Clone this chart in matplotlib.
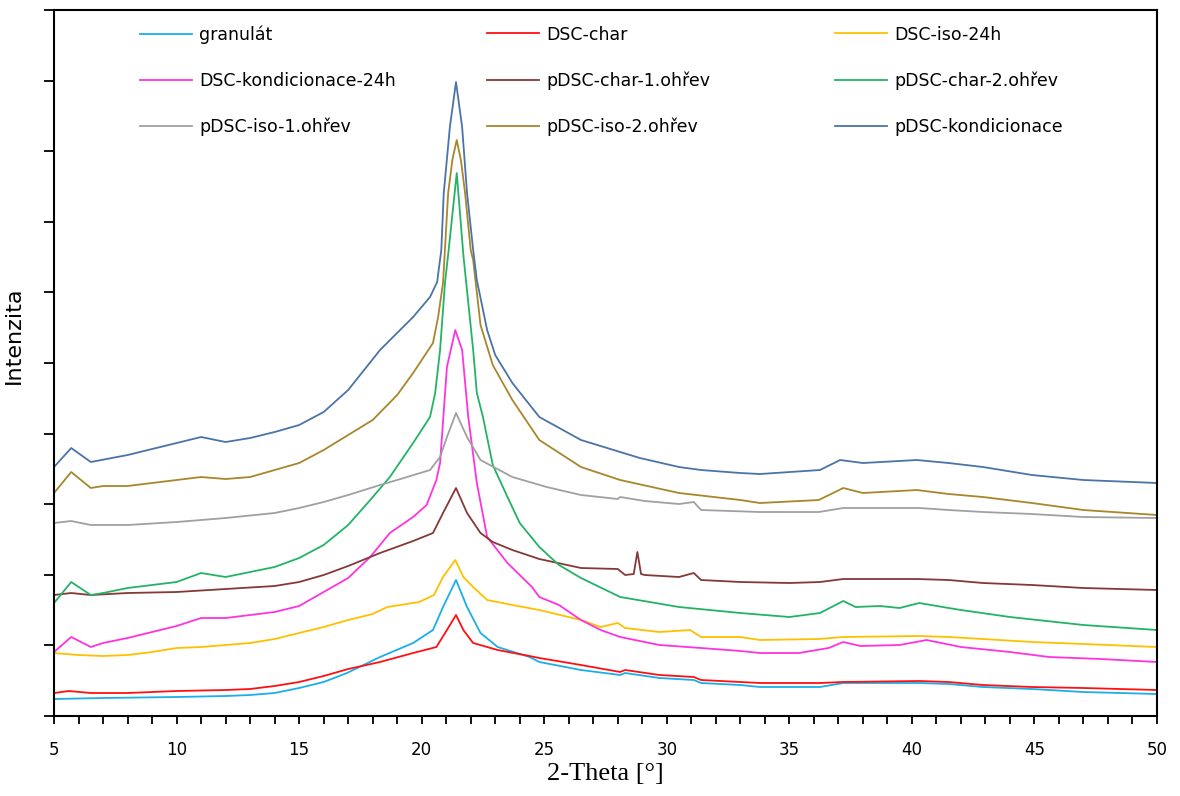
import matplotlib
matplotlib.use("Agg")
import matplotlib.pyplot as plt
from matplotlib.legend import Legend
from matplotlib.ticker import MultipleLocator

# XRD záznamy (2-Theta [°], intenzita)
granulat_x = [5, 7, 10, 12, 13, 14, 15, 16, 16.95, 18.3, 19.65, 20.46, 20.87, 21.4, 21.85, 22.4, 23.1,
              24.4, 24.8, 26.5, 28.1, 28.3, 29.7, 31.1, 31.4, 33, 33.8, 36.25, 37.2, 40.3, 41.5, 42.9,
              44.9, 47, 50]
granulat_y = [170, 180, 190, 200, 210, 230, 280, 340, 430, 590, 730, 860, 1090, 1360, 1090, 830, 690,
              590, 540, 460, 410, 430, 380, 360, 330, 310, 290, 290, 330, 330, 320, 290,
              270, 240, 220]

dsc_char_x = [5, 5.6, 6.5, 8, 10, 12, 13, 14, 15, 16, 17, 18.3, 19.65, 20.6, 21.03, 21.4, 21.7, 22.1,
              23.1, 24.4, 24.8, 26.5, 28.1, 28.3, 29.7, 31.1, 31.4, 33, 33.8, 36.25, 37.2, 40.3, 41.5,
              42.9, 44.9, 47, 50]
dsc_char_y = [230, 250, 230, 230, 250, 260, 270, 300, 340, 400, 470, 540, 630, 690, 860, 1010, 860, 730,
              660, 600, 580, 510, 440, 460, 410, 390, 360, 340, 330, 330, 340, 350, 340,
              310, 290, 280, 260]

dsc_iso_x = [5, 6, 7, 8, 9, 10, 11, 12, 13, 14, 15, 16, 17, 18, 18.6, 19.9, 20.5, 20.87, 21.37, 21.7,
             22.1, 22.67, 23.7, 24.8, 26.5, 27.3, 28.0, 28.3, 29.7, 30.95, 31.4, 33, 33.8, 36.2, 37.2,
             40.3, 41.5, 42.9, 44.9, 47, 50]
dsc_iso_y = [630, 610, 600, 610, 640, 680, 690, 710, 730, 770, 830, 890, 960, 1020, 1090, 1140, 1210, 1390,
             1560, 1390, 1290, 1160, 1110, 1060, 960, 890, 930, 880, 840, 860, 790, 790, 760, 770, 790,
             800, 790, 770, 740, 720, 690]

dsc_kond_x = [5, 5.7, 6.5, 7, 8, 9, 10, 11, 12, 13, 14, 15, 16, 17, 17.9, 18.7, 19.65, 20.2, 20.6, 20.75,
              21.03, 21.37, 21.65, 21.9, 22.25, 22.67, 23.5, 24.5, 24.8, 25.6, 26.5, 27.3, 28.1, 29.7,
              31.4, 33, 33.8, 35.4, 36.6, 37.2, 37.9, 39.5, 40.6, 42, 44, 45.6, 47.7, 50]
dsc_kond_y = [640, 790, 690, 730, 780, 840, 900, 980, 980, 1010, 1040, 1100, 1240, 1380, 1590, 1830, 1990,
              2110, 2360, 2530, 3490, 3860, 3660, 2990, 2330, 1790, 1530, 1290, 1190, 1110, 960, 860,
              790, 710, 680, 650, 630, 630, 680, 740, 700, 710, 760, 690, 640, 590, 570, 540]

pchar1_x = [5, 5.7, 6.5, 8, 10, 12, 14, 15, 16, 17, 18.3, 19.65, 20.46, 20.87, 21.4, 21.85, 22.4, 22.9,
            23.7, 24.8, 26.5, 28.0, 28.3, 28.65, 28.8, 28.95, 29.1, 30.5, 31.1, 31.4, 33, 35, 36.25,
            37.2, 40.2, 41.5, 42.9, 44.9, 47, 50]
pchar1_y = [1210, 1230, 1210, 1230, 1240, 1270, 1300, 1340, 1410, 1500, 1630, 1750, 1830, 2030, 2280, 2030,
            1830, 1740, 1660, 1570, 1480, 1470, 1410, 1420, 1640, 1420, 1410, 1390, 1430, 1360, 1340,
            1330, 1340, 1370, 1370, 1360, 1330, 1310, 1280, 1260]

pchar2_x = [5, 5.7, 6.5, 7, 8, 9, 10, 11, 12, 13, 14, 15, 16, 17, 17.9, 18.7, 19.65, 20.34, 20.55, 20.75,
            20.95, 21.1, 21.43, 21.7, 22.1, 22.25, 22.5, 22.9, 23.5, 24.0, 24.8, 25.6, 26.5, 28.1, 30.5,
            33, 35, 36.25, 37.2, 37.7, 38.7, 39.5, 40.3, 41.5, 42, 44, 47, 50]
pchar2_y = [1130, 1340, 1210, 1230, 1280, 1310, 1340, 1430, 1390, 1440, 1490, 1580, 1710, 1910, 2160, 2390,
            2730, 2990, 3230, 3660, 4330, 4660, 5430, 4610, 3660, 3230, 2990, 2510, 2190, 1930, 1690,
            1510, 1380, 1190, 1090, 1030, 990, 1030, 1150, 1090, 1100, 1080, 1130, 1080, 1060, 990,
            910, 860]

piso1_x = [5, 5.7, 6.5, 8, 10, 12, 14, 15, 16, 17, 18.3, 19, 20.34, 20.75, 21.03, 21.4, 21.85, 22.4, 23.7,
           25.1, 26.5, 28.0, 28.1, 29.1, 30.5, 31.1, 31.4, 33.8, 36.2, 37.2, 40.3, 41.5, 42.9, 44.9,
           47, 50]
piso1_y = [1930, 1950, 1910, 1910, 1940, 1980, 2030, 2080, 2140, 2210, 2310, 2360, 2460, 2590, 2790, 3030,
           2790, 2560, 2390, 2290, 2210, 2170, 2190, 2150, 2120, 2140, 2060, 2040, 2040, 2080, 2080,
           2060, 2040, 2020, 1990, 1980]

piso2_x = [5, 5.7, 6.5, 7, 8, 10, 11, 12, 13, 14, 15, 16, 17, 18, 19, 19.65, 20.46, 20.67, 20.87, 21.08,
           21.25, 21.43, 21.6, 21.77, 22.0, 22.1, 22.4, 22.9, 23.7, 24.8, 26.5, 28.1, 30.5, 33, 33.8,
           36.2, 37.2, 38, 40.2, 41.5, 42.9, 44.9, 47, 50]
piso2_y = [2230, 2440, 2280, 2300, 2300, 2360, 2390, 2370, 2390, 2460, 2530, 2660, 2810, 2960, 3210, 3430,
           3730, 3990, 4330, 5230, 5560, 5760, 5560, 5230, 4660, 4560, 3910, 3510, 3160, 2760, 2490,
           2360, 2230, 2160, 2130, 2160, 2280, 2230, 2260, 2220, 2190, 2130, 2060, 2010]

pkond_x = [5, 5.7, 6.5, 8, 10, 11, 12, 13, 14, 15, 16, 17, 18.3, 19.65, 20.34, 20.63, 20.8, 20.9, 21.15,
           21.4, 21.65, 21.85, 22.1, 22.25, 22.67, 23.0, 23.7, 24.8, 26.5, 28.1, 28.9, 30.5, 31.4, 33,
           33.8, 36.25, 37.07, 38, 40.2, 41.5, 42.9, 44.9, 47, 50]
pkond_y = [2490, 2680, 2540, 2610, 2730, 2790, 2740, 2780, 2840, 2910, 3040, 3260, 3660, 3990, 4190, 4340,
           4660, 5230, 5890, 6340, 5890, 5230, 4660, 4360, 3860, 3610, 3330, 2990, 2760, 2640, 2580,
           2490, 2460, 2430, 2420, 2460, 2560, 2530, 2560, 2530, 2490, 2410, 2360, 2330]

series = [
    ("granulát", granulat_x, granulat_y, "#1aaeea"),
    ("DSC-char", dsc_char_x, dsc_char_y, "#ff1010"),
    ("DSC-iso-24h", dsc_iso_x, dsc_iso_y, "#ffc000"),
    ("DSC-kondicionace-24h", dsc_kond_x, dsc_kond_y, "#ff33dd"),
    ("pDSC-char-1.ohřev", pchar1_x, pchar1_y, "#853838"),
    ("pDSC-char-2.ohřev", pchar2_x, pchar2_y, "#22b365"),
    ("pDSC-iso-1.ohřev", piso1_x, piso1_y, "#a0a0a0"),
    ("pDSC-iso-2.ohřev", piso2_x, piso2_y, "#a8862a"),
    ("pDSC-kondicionace", pkond_x, pkond_y, "#4a74a8"),
]

fig = plt.figure(figsize=(11.8, 7.96), dpi=100)
ax = fig.add_axes([0.0458, 0.1005, 0.9347, 0.8869])

handles = []
for name, xs, ys, col in series:
    h, = ax.plot(xs, ys, color=col, linewidth=1.3, label=name)
    handles.append(h)

ax.set_xlim(5, 50)
ax.set_ylim(0, 7060)
ax.xaxis.set_major_locator(MultipleLocator(5))
ax.xaxis.set_minor_locator(MultipleLocator(1))
ax.yaxis.set_major_locator(MultipleLocator(706))
ax.set_yticklabels([])
ax.tick_params(axis="x", which="both", direction="out", length=6, width=1.3, pad=12, labelsize=12)
ax.tick_params(axis="y", which="major", direction="out", length=7, width=1.3)
for s in ax.spines.values():
    s.set_linewidth(1.5)

ax.set_xlabel("2-Theta [°]", family="Liberation Serif", fontsize=19, labelpad=3)
ax.set_ylabel("Intenzita", fontsize=16)
ax.yaxis.set_label_coords(-0.027, 0.54)

# legenda po řádcích, každý sloupec zvlášť
col_x = [0.078, 0.3926, 0.708]
for c in range(3):
    idx = [c, c + 3, c + 6]
    leg = Legend(ax, [handles[i] for i in idx], [series[i][0] for i in idx],
                 loc="upper left", bbox_to_anchor=(col_x[c], 0.978), frameon=False,
                 fontsize=12.5, handlelength=3.0, handletextpad=0.4, labelspacing=1.6,
                 borderpad=0, borderaxespad=0)
    ax.add_artist(leg)

fig.savefig("out.png", dpi=100)
